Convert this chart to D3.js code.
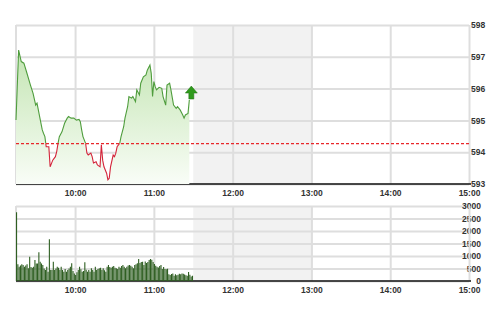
<!DOCTYPE html>
<html>
<head>
  <script src="https://d3js.org/d3.v7.min.js"></script>
  <title>Intraday chart</title>
  <style>
    body { margin: 0; background: #fff; }
    svg { display: block; }
    .tick text { font-family: "Liberation Sans", Arial, sans-serif; font-size: 8.5px; font-weight: bold; fill: #333; }
  </style>
</head>
<body>
<div id="chart"></div>
<script>
// price line (time, index value)
var priceTimes = ["9:15","9:17","9:19","9:21","9:23","9:26","9:28","9:30","9:31","9:33",
  "9:35","9:36","9:37","9:38","9:40","9:41","9:43","9:45","9:46","9:47",
  "9:48","9:50","9:52","9:54","9:55","9:57","9:59","10:01","10:03","10:04",
  "10:05","10:06","10:08","10:09","10:10","10:12","10:13","10:14","10:16","10:17",
  "10:19","10:20","10:21","10:22","10:24","10:25","10:26","10:27","10:29","10:30",
  "10:31","10:32","10:34","10:35","10:37","10:38","10:40","10:41","10:43","10:44",
  "10:46","10:47","10:49","10:50","10:52","10:54","10:55","10:57","10:58","10:59",
  "11:00","11:01","11:02","11:04","11:06","11:07","11:09","11:10","11:12","11:13",
  "11:15","11:17","11:18","11:20","11:22","11:23","11:24","11:26","11:27"];
var priceValues = [595.01,597.21,596.85,596.80,596.53,596.11,595.85,595.48,595.54,595.12,
  594.70,594.59,594.49,594.17,594.17,593.54,593.75,593.86,594.02,594.28,
  594.49,594.64,594.91,595.07,595.12,595.07,595.07,595.01,595.03,594.96,
  594.70,594.49,594.28,593.97,593.91,593.97,593.86,593.66,593.70,593.60,
  593.54,594.23,593.75,593.54,593.34,593.13,593.18,593.54,593.91,593.86,
  593.97,594.17,594.28,594.49,594.80,595.07,595.43,595.75,595.70,595.75,
  595.59,595.96,595.80,596.17,596.37,596.43,596.58,596.74,596.48,595.75,
  596.22,596.06,595.96,596.04,596.01,595.75,595.48,596.11,596.17,595.96,
  595.48,595.38,595.43,595.33,595.17,595.07,595.17,595.22,595.64];
var prevClose = 594.27;

// volume, one bar per minute from 9:15
var volStart = "9:15";
var volumes = [2750,670,570,620,670,640,570,620,670,510,
  970,560,530,570,840,700,700,1150,770,700,
  640,500,440,570,370,1670,440,440,770,440,
  500,570,530,440,570,440,370,480,370,440,
  500,570,710,400,300,240,350,440,570,470,
  370,400,750,450,370,440,370,510,440,370,
  570,440,480,510,530,440,510,430,370,570,
  640,560,530,570,600,530,510,480,570,530,
  600,640,570,510,570,620,640,610,570,510,
  640,670,710,880,720,760,770,640,780,720,
  760,840,880,850,760,680,610,570,540,600,
  640,480,560,480,470,490,270,240,280,300,
  210,270,230,250,290,270,300,290,260,230,
  210,360,250,180,210];

var hourTicks = ["10:00","11:00","12:00","13:00","14:00","15:00"];
var sessionRange = ["9:15","15:00"];
var lunchBreak = ["11:30","13:00"];
var priceTicks = [593,594,595,596,597,598];
var volTicks = [0,500,1000,1500,2000,2500,3000];

var parseTime = d3.timeParse("%H:%M");
var fmt = d3.timeFormat("%H:%M");

var width = 500, height = 312;
var left = 16, right = 469;
var priceTop = 25, priceBottom = 184;
var volTop = 206, volBottom = 281;

var svg = d3.select("#chart").append("svg")
  .attr("width", width).attr("height", height);

var x = d3.scaleTime()
  .domain(sessionRange.map(parseTime))
  .range([left, right]);
var yPrice = d3.scaleLinear().domain([593, 598]).range([priceBottom, priceTop]);
var yVol = d3.scaleLinear().domain([0, 3000]).range([volBottom, volTop]);

var defs = svg.append("defs");
var grad = defs.append("linearGradient")
  .attr("id", "fillGrad")
  .attr("gradientUnits", "userSpaceOnUse")
  .attr("x1", 0).attr("x2", 0)
  .attr("y1", priceTop).attr("y2", priceBottom);
grad.append("stop").attr("offset", "0%").attr("stop-color", "#b9e0a6");
grad.append("stop").attr("offset", "55%").attr("stop-color", "#dcf0d2");
grad.append("stop").attr("offset", "100%").attr("stop-color", "#f9fdf7");

defs.append("clipPath").attr("id", "above").append("rect")
  .attr("x", 0).attr("y", 0).attr("width", width).attr("height", yPrice(prevClose));
defs.append("clipPath").attr("id", "below").append("rect")
  .attr("x", 0).attr("y", yPrice(prevClose)).attr("width", width)
  .attr("height", height - yPrice(prevClose));

function panel(y, top, bottom, ticks, labelFmt, anchor, labelX) {
  var g = svg.append("g");
  // lunch break shading
  g.append("rect")
    .attr("x", x(parseTime(lunchBreak[0])))
    .attr("y", top)
    .attr("width", x(parseTime(lunchBreak[1])) - x(parseTime(lunchBreak[0])))
    .attr("height", bottom - top)
    .attr("fill", "#f2f2f2");

  // horizontal grid + right labels
  var yAxis = g.append("g")
    .attr("transform", "translate(" + right + ",0)")
    .call(d3.axisRight(y).tickValues(ticks).tickSize(-(right - left)).tickFormat(labelFmt));
  yAxis.select(".domain").remove();
  yAxis.selectAll(".tick line").attr("stroke", "#dedede").attr("stroke-width", 2);
  yAxis.selectAll(".tick text").attr("x", labelX).attr("text-anchor", anchor);

  // vertical grid
  var xGrid = g.append("g")
    .attr("transform", "translate(0," + bottom + ")")
    .call(d3.axisBottom(x).tickValues(hourTicks.map(parseTime)).tickSize(-(bottom - top)).tickFormat(""));
  xGrid.select(".domain").remove();
  xGrid.selectAll(".tick line").attr("stroke", "#dedede").attr("stroke-width", 2);

  g.append("line").attr("x1", left).attr("x2", left).attr("y1", top).attr("y2", bottom)
    .attr("stroke", "#dedede").attr("stroke-width", 2);

  // x labels
  var xAxis = g.append("g")
    .attr("transform", "translate(0," + bottom + ")")
    .call(d3.axisBottom(x).tickValues(hourTicks.map(parseTime)).tickSize(0).tickPadding(6).tickFormat(fmt));
  xAxis.select(".domain").remove();

  g.append("line").attr("x1", left).attr("x2", right + 2).attr("y1", bottom).attr("y2", bottom)
    .attr("stroke", "#111").attr("stroke-width", 1.5);
  return g;
}

panel(yPrice, priceTop, priceBottom, priceTicks, d3.format("d"), "start", 2);
panel(yVol, volTop, volBottom, volTicks, d3.format("d"), "end", 12);

// price area + line
var pts = priceTimes.map(function(t, i) { return { t: parseTime(t), v: priceValues[i] }; });

svg.append("path")
  .datum(pts)
  .attr("fill", "url(#fillGrad)")
  .attr("d", d3.area().x(function(d) { return x(d.t); }).y0(priceBottom).y1(function(d) { return yPrice(d.v); }));

var line = d3.line().x(function(d) { return x(d.t); }).y(function(d) { return yPrice(d.v); });
svg.append("path").datum(pts).attr("clip-path", "url(#above)")
  .attr("fill", "none").attr("stroke", "#4f9d3d").attr("stroke-width", 1.1).attr("d", line);
svg.append("path").datum(pts).attr("clip-path", "url(#below)")
  .attr("fill", "none").attr("stroke", "#d4243a").attr("stroke-width", 1.1).attr("d", line);

// previous close reference
svg.append("line")
  .attr("x1", left).attr("x2", right)
  .attr("y1", yPrice(prevClose)).attr("y2", yPrice(prevClose))
  .attr("stroke", "#e8262a").attr("stroke-width", 1.2).attr("stroke-dasharray", "3,2");

// up arrow at last price
var last = pts[pts.length - 1];
svg.append("path")
  .attr("transform", "translate(" + (x(last.t) + 2) + "," + (yPrice(last.v) - 1) + ")")
  .attr("d", "M0,-13 L6,-6 L2.5,-6 L2.5,0 L-2.5,0 L-2.5,-6 L-6,-6 Z")
  .attr("fill", "#2f9a1c").attr("stroke", "#1f7010").attr("stroke-width", 0.5);

// volume bars
var t0 = parseTime(volStart);
svg.append("g").selectAll("rect")
  .data(volumes)
  .enter().append("rect")
  .attr("x", function(d, i) { return x(d3.timeMinute.offset(t0, i)); })
  .attr("y", function(d) { return yVol(d); })
  .attr("width", 1.1)
  .attr("height", function(d) { return volBottom - yVol(d); })
  .attr("fill", "#2f5f22");
</script>
</body>
</html>
